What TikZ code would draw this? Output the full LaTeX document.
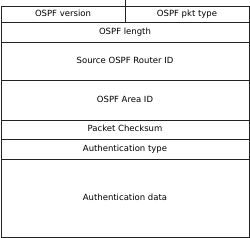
\documentclass[tikz,border=0pt]{standalone}
\usepackage{fontspec}
\setmainfont{DejaVu Sans}
\usetikzlibrary{positioning}
\definecolor{FieldLine}{HTML}{222222}
\tikzset{
  field/.style={draw=FieldLine, line width=0.8pt, inner sep=0pt, outer sep=0pt,
    minimum width=248pt, align=center, text height=6.5pt, text depth=1.5pt,
    font=\fontsize{8.5}{10}\selectfont},
  halffield/.style={field, minimum width=124pt}
}

\begin{document}
\begin{tikzpicture}[x=1pt,y=-1pt]
\useasboundingbox (0,0) rectangle (250,238);
% header word: two halves
\node[halffield, minimum height=16pt, anchor=north west] (version) at (1,6) {OSPF version};
\node[halffield, minimum height=16pt, anchor=north west] (pkttype) at (version.north east) {OSPF pkt type};
\coordinate (tick) at (125,0);
\draw[FieldLine, line width=0.8pt] (version.north east) -- (tick);
% full-width fields
\node[field, minimum height=20pt, below=0pt of version.south east] (length) {OSPF length};
\node[field, minimum height=38pt, below=0pt of length] (routerid) {Source OSPF Router ID};
\node[field, minimum height=40pt, below=0pt of routerid] (areaid) {OSPF Area ID};
\node[field, minimum height=19pt, below=0pt of areaid] (checksum) {Packet Checksum};
\node[field, minimum height=20pt, below=0pt of checksum] (authtype) {Authentication type};
\node[field, minimum height=78pt, below=0pt of authtype] (authdata) {Authentication data};
\end{tikzpicture}
\end{document}
